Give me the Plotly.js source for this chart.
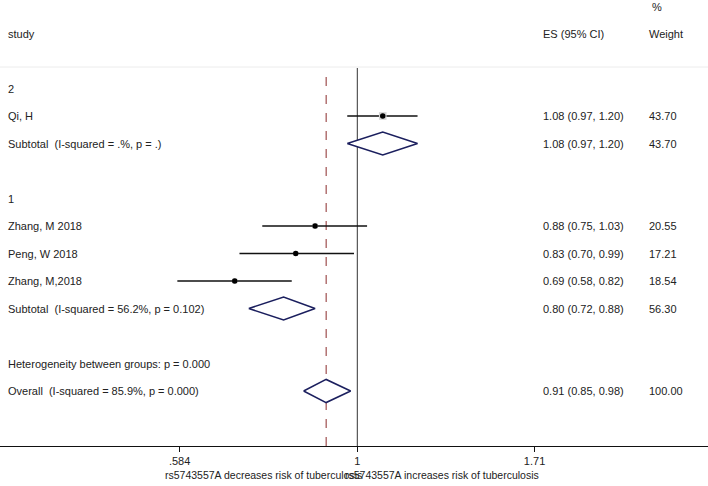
<!DOCTYPE html>
<html>
<head>
<meta charset="utf-8">
<script src="https://cdn.plot.ly/plotly-3.0.1.min.js"></script>
<style>html,body{margin:0;padding:0;background:#fff;}#chart{width:708px;height:486px;}</style>
</head>
<body>
<div id="chart"></div>
<script>
// ---- data ----
const groupLabels = ["2", "1"];
const studies = [["Qi, H"], ["Zhang, M 2018", "Peng, W 2018", "Zhang, M,2018"]];
const es = [[1.08], [0.88, 0.83, 0.69]];
const lo = [[0.97], [0.75, 0.70, 0.58]];
const hi = [[1.20], [1.03, 0.99, 0.82]];
const weights = [[43.70], [20.55, 17.21, 18.54]];
const subtotalLabels = ["Subtotal  (I-squared = .%, p = .)", "Subtotal  (I-squared = 56.2%, p = 0.102)"];
const subEs = [1.08, 0.80];
const subLo = [0.97, 0.72];
const subHi = [1.20, 0.88];
const subWeights = [43.70, 56.30];
const hetLabel = "Heterogeneity between groups: p = 0.000";
const overallLabel = "Overall  (I-squared = 85.9%, p = 0.000)";
const overallEs = 0.91, overallLo = 0.85, overallHi = 0.98, overallWeight = 100.00;
const tickVals = [0.584, 1, 1.71];
const tickText = [".584", "1", "1.71"];
const leftAxisLabel = "rs5743557A decreases risk of tuberculosis";
const rightAxisLabel = "rs5743557A increases risk of tuberculosis";

// ---- build ----
const W = 708;
const font = {family: "Liberation Sans, Arial, sans-serif", size: 11, color: "#222"};
const axFont = {family: "Liberation Sans, Arial, sans-serif", size: 10.5, color: "#222"};
const traces = [];
const annotations = [];
const fmt = (e, l, h) => `${e.toFixed(2)} (${l.toFixed(2)}, ${h.toFixed(2)})`;
function txt(px, row, text, anchor) {
  annotations.push({xref: "paper", yref: "y", x: px / W, y: row, text: text, showarrow: false,
    xanchor: anchor || "left", yanchor: "middle", font: font});
}
function rowText(row, label, e, l, h, w) {
  txt(6, row, label);
  if (e !== null) {
    txt(541, row, fmt(e, l, h));
    txt(647, row, w.toFixed(2));
  }
}
function diamond(row, l, e, h) {
  traces.push({x: [l, e, h, e, l], y: [row, row - 0.42, row, row + 0.42, row], mode: "lines",
    fill: "toself", fillcolor: "#ffffff", line: {color: "#1b1f5e", width: 1.5}, hoverinfo: "skip"});
}

txt(6, 0, "study");
txt(541, 0, "ES (95% CI)");
txt(647, 0, "Weight");
txt(650, -0.95, "%");

let row = 2;
for (let g = 0; g < groupLabels.length; g++) {
  txt(6, row, groupLabels[g]);
  row++;
  for (let i = 0; i < studies[g].length; i++) {
    rowText(row, studies[g][i], es[g][i], lo[g][i], hi[g][i], weights[g][i]);
    traces.push({x: [lo[g][i], hi[g][i]], y: [row, row], mode: "lines",
      line: {color: "#111", width: 1.5}, hoverinfo: "skip"});
    traces.push({x: [es[g][i]], y: [row], mode: "markers",
      marker: {symbol: "square", size: 1.15 * Math.sqrt(weights[g][i]), color: "#d4d4d4"}, hoverinfo: "skip"});
    traces.push({x: [es[g][i]], y: [row], mode: "markers",
      marker: {symbol: "circle", size: 5.5, color: "#000"}, hoverinfo: "skip"});
    row++;
  }
  rowText(row, subtotalLabels[g], subEs[g], subLo[g], subHi[g], subWeights[g]);
  diamond(row, subLo[g], subEs[g], subHi[g]);
  row += 2;
}
txt(6, row, hetLabel);
row++;
rowText(row, overallLabel, overallEs, overallLo, overallHi, overallWeight);
diamond(row, overallLo, overallEs, overallHi);

annotations.push({xref: "paper", yref: "paper", x: 163 / W, y: -0.065, text: leftAxisLabel, showarrow: false,
  xanchor: "left", yanchor: "middle", font: axFont});
annotations.push({xref: "paper", yref: "paper", x: 541 / W, y: -0.065, text: rightAxisLabel, showarrow: false,
  xanchor: "right", yanchor: "middle", font: axFont});

const topPaper = (446 - 68) / 446;
const shapes = [
  {type: "line", xref: "paper", yref: "paper", x0: 0, x1: 1, y0: (446 - 67) / 446, y1: (446 - 67) / 446,
    line: {color: "#ececec", width: 1}, layer: "below"},
  {type: "line", xref: "x", yref: "paper", x0: 1, x1: 1, y0: 0, y1: topPaper,
    line: {color: "#333", width: 1}, layer: "below"},
  {type: "line", xref: "x", yref: "paper", x0: overallEs, x1: overallEs, y0: 0, y1: topPaper,
    line: {color: "#8b2a2a", width: 1, dash: "dash"}, layer: "below"}
];

const layout = {
  width: 708, height: 486,
  margin: {l: 0, r: 0, t: 0, b: 40},
  paper_bgcolor: "#fff", plot_bgcolor: "#fff",
  showlegend: false,
  xaxis: {type: "log", range: [-0.4697, 0.4610], showgrid: false, zeroline: false,
    showline: true, linecolor: "#111", linewidth: 1, ticks: "outside", ticklen: 5, tickcolor: "#111",
    tickvals: tickVals, ticktext: tickText, tickfont: font, fixedrange: true},
  yaxis: {range: [15, -1.218], visible: false, showgrid: false, zeroline: false, fixedrange: true},
  annotations: annotations,
  shapes: shapes
};
Plotly.newPlot("chart", traces, layout, {staticPlot: true, displayModeBar: false});
</script>
</body>
</html>
